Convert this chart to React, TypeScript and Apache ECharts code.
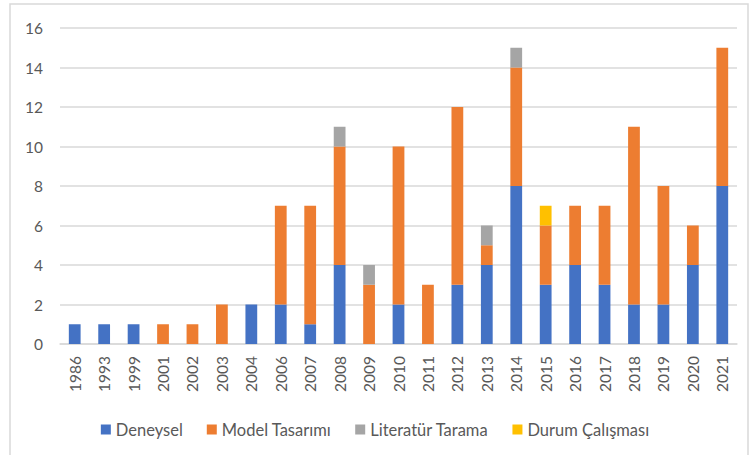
import React, { useEffect, useRef } from "react";
import * as echarts from "echarts";

const years = ["1986","1993","1999","2001","2002","2003","2004","2006","2007","2008","2009","2010","2011","2012","2013","2014","2015","2016","2017","2018","2019","2020","2021"];
const deneysel = [1,1,1,0,0,0,2,2,1,4,0,2,0,3,4,8,3,4,3,2,2,4,8];
const modelTasarimi = [0,0,0,1,1,2,0,5,6,6,3,8,3,9,1,6,3,3,4,9,6,2,7];
const literaturTarama = [0,0,0,0,0,0,0,0,0,1,1,0,0,0,1,1,0,0,0,0,0,0,0];
const durumCalismasi = [0,0,0,0,0,0,0,0,0,0,0,0,0,0,0,0,1,0,0,0,0,0,0];
const seriesNames = ["Deneysel", "Model Tasarımı", "Literatür Tarama", "Durum Çalışması"];
const colors = ["#4472C4", "#ED7D31", "#A5A5A5", "#FFC000"];

const FONT = "Lato";

export default function App() {
  const ref = useRef<HTMLDivElement>(null);
  useEffect(() => {
    if (!ref.current) return;
    const chart = echarts.init(ref.current, null, { renderer: "svg" });
    const datas = [deneysel, modelTasarimi, literaturTarama, durumCalismasi];
    chart.setOption({
      animation: false,
      graphic: [
        {
          type: "rect",
          shape: { x: 10, y: 4, width: 738, height: 470 },
          style: { fill: "none", stroke: "#d9d9d9", lineWidth: 1.5 },
          silent: true,
        },
      ],
      grid: { left: 60, right: 13, top: 28, bottom: 111 },
      xAxis: {
        type: "category",
        data: years,
        axisLine: { lineStyle: { color: "#d9d9d9", width: 1.5 } },
        axisTick: { show: false },
        axisLabel: { rotate: 90, color: "#595959", fontSize: 15.5, fontFamily: FONT, margin: 12 },
      },
      yAxis: {
        type: "value",
        min: 0,
        max: 16,
        interval: 2,
        axisLine: { show: false },
        axisTick: { show: false },
        splitLine: { lineStyle: { color: "#d9d9d9", width: 1.5 } },
        axisLabel: { color: "#595959", fontSize: 15.5, fontFamily: FONT, margin: 17 },
      },
      legend: {
        top: 416,
        left: "center",
        itemWidth: 10,
        itemHeight: 10,
        itemGap: 24,
        icon: "rect",
        textStyle: { color: "#595959", fontSize: 16.5, fontFamily: FONT },
        data: seriesNames,
      },
      series: seriesNames.map((name, i) => ({
        name,
        type: "bar",
        stack: "total",
        barWidth: "40%",
        itemStyle: { color: colors[i] },
        data: datas[i].map((v) => (v === 0 ? null : v)),
      })),
    });
    return () => chart.dispose();
  }, []);
  return <div ref={ref} style={{ position: "absolute", left: 0, top: 0, width: 750, height: 455 }} />;
}
